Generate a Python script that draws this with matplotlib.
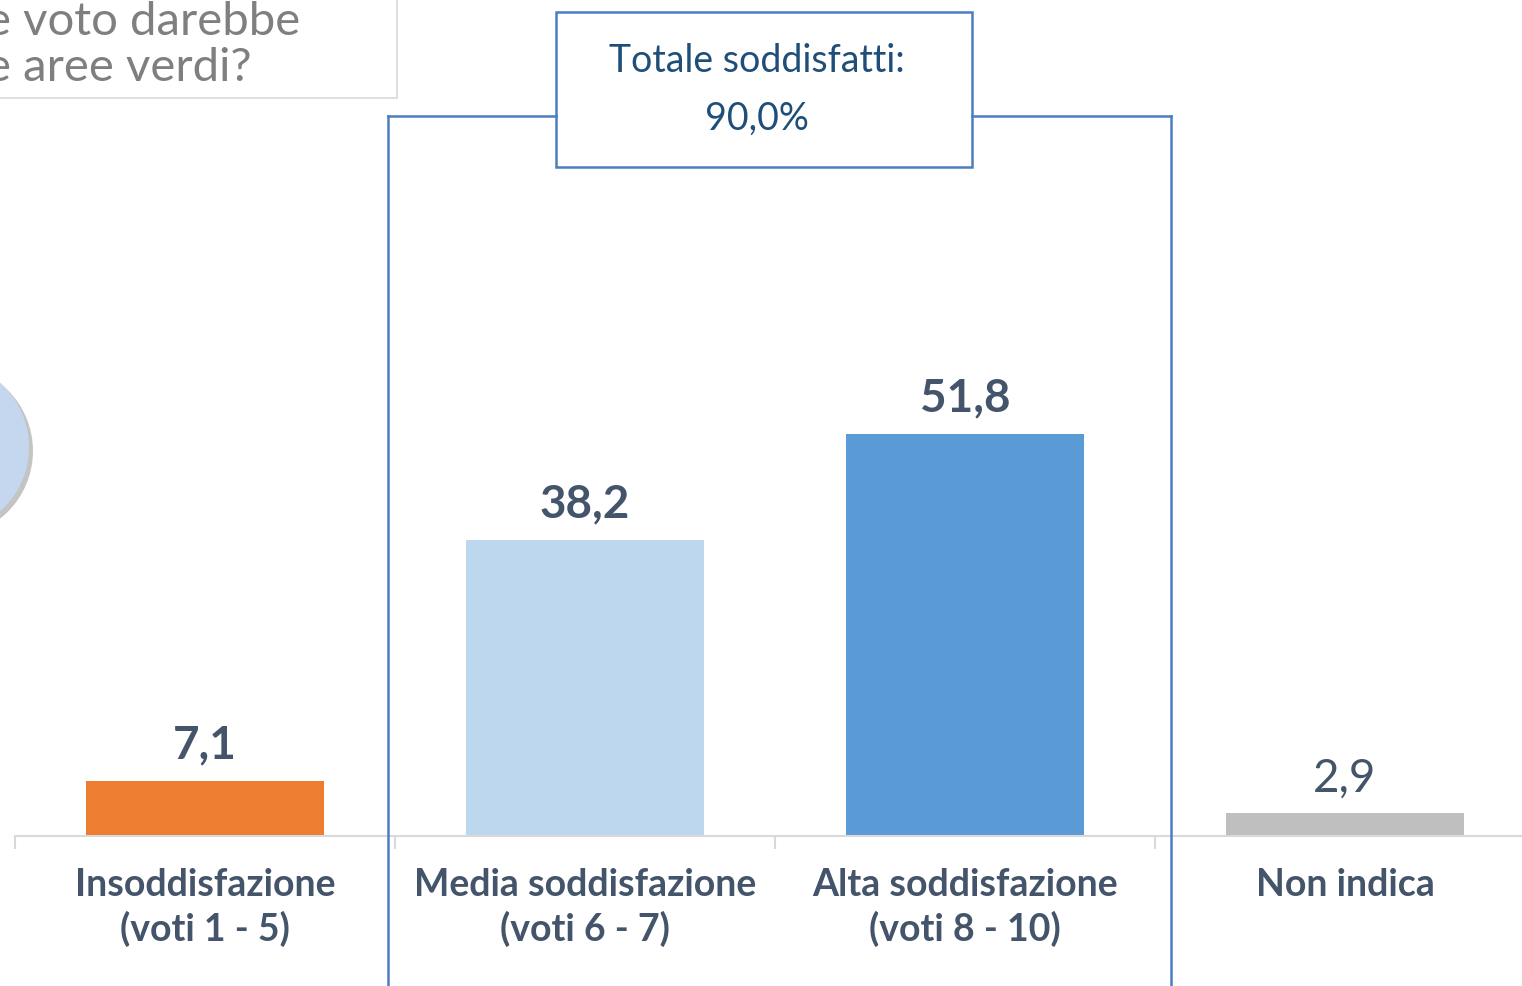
import numpy as np
import matplotlib
matplotlib.use("Agg")
from matplotlib import pyplot as plt
from matplotlib.patches import Rectangle, Circle

categories = ["Insoddisfazione\n(voti 1 - 5)", "Media soddisfazione\n(voti 6 - 7)",
              "Alta soddisfazione\n(voti 8 - 10)", "Non indica"]
values = [7.1, 38.2, 51.8, 2.9]
value_labels = ["7,1", "38,2", "51,8", "2,9"]
bar_colors = ["#ED7D31", "#BDD7EE", "#5B9BD5", "#BFBFBF"]
total_label = "Totale soddisfatti:\n90,0%"
question = "e voto darebbe\ne aree verdi?"

W, H = 1522, 987
plt.rcParams['font.family'] = ['Lato', 'DejaVu Sans']
fig = plt.figure(figsize=(W / 100, H / 100), dpi=100)

def fx(px):
    return px / W

def fy(py):
    # pixel rows counted from the top
    return 1 - py / H

ax = fig.add_axes([fx(15), fy(837), 1 - fx(15), 837 / H])
x = np.arange(len(values))
ax.bar(x, values, width=0.626, color=bar_colors, zorder=2)
ax.set_xlim(-0.5, (W - 205) / 380)
ax.set_ylim(0, 837 / 7.76)

for i, (v, lab) in enumerate(zip(values, value_labels)):
    bold = i < 3
    ax.annotate(lab, (i, v), xytext=(0, 11), textcoords="offset points",
                ha="center", va="bottom", fontsize=33,
                fontweight="bold" if bold else "normal", color="#44546A")

for s in ["top", "right", "left"]:
    ax.spines[s].set_visible(False)
ax.spines["bottom"].set_color("#D9D9D9")
ax.spines["bottom"].set_linewidth(1.5)
ax.set_yticks([])
ax.set_xticks(x)
ax.set_xticklabels(categories, fontsize=27, fontweight="bold", color="#44546A",
                   linespacing=1.3)
ax.tick_params(axis="x", which="major", length=0, pad=22)
ax.set_xticks(np.arange(-0.5, 3.5, 1), minor=True)
ax.tick_params(axis="x", which="minor", length=9, width=1.5, color="#D9D9D9")
ax.patch.set_alpha(0)

# bracket around the satisfied groups
blue = "#4A7EC0"
for xs, ys in [([388, 388], [987, 117]), ([1171, 1171], [987, 117]),
               ([388, 556], [117, 117]), ([972, 1171], [117, 117])]:
    fig.add_artist(plt.Line2D([fx(v) for v in xs], [fy(v) for v in ys],
                              color=blue, lw=1.8))
fig.add_artist(Rectangle((fx(556), fy(168)), fx(972 - 556), (168 - 13) / H,
                         transform=fig.transFigure, facecolor="white",
                         edgecolor=blue, lw=1.8))
fig.text(fx(757), fy(90), total_label, ha="center", va="center", fontsize=27,
         color="#1F4E79", linespacing=1.75)

# question box, partly off the left edge
fig.add_artist(Rectangle((fx(-50), fy(99)), fx(447), 150 / H,
                         transform=fig.transFigure, facecolor="white",
                         edgecolor="#D9D9D9", lw=1.2))
fig.text(fx(-14), fy(45), question, ha="left", va="center", multialignment="left",
         fontsize=34, color="#7F7F7F", linespacing=1.1)

# round badge on the left edge, sized in inches so it stays circular
inch = fig.dpi_scale_trans
fig.add_artist(Circle((-0.53, (H - 452) / 100), 0.86, transform=inch,
                      facecolor="#9E9E9E", edgecolor="none", alpha=0.6))
fig.add_artist(Circle((-0.57, (H - 448) / 100), 0.86, transform=inch,
                      facecolor="#C5D7EE", edgecolor="none"))

fig.savefig("out.png", dpi=100)
